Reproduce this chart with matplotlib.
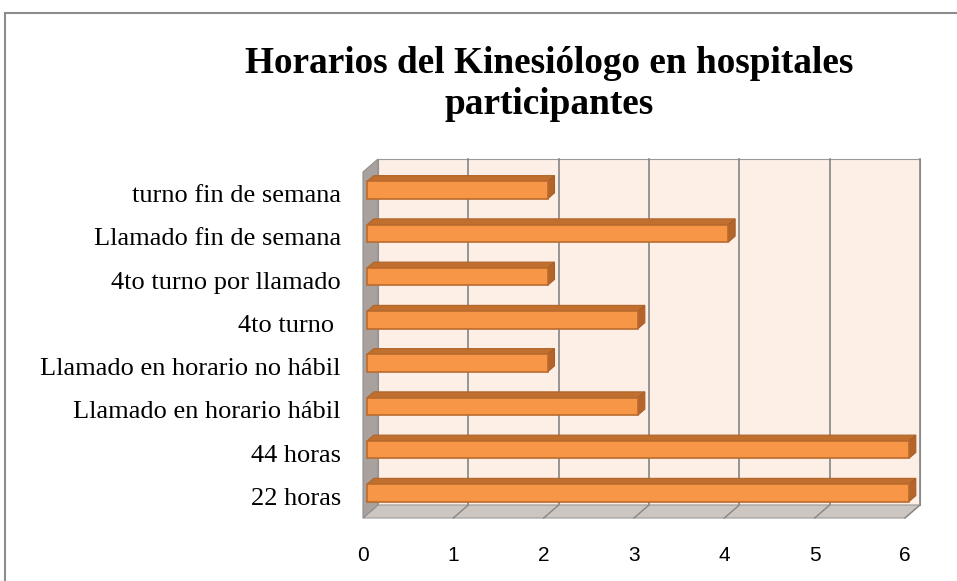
import matplotlib.pyplot as plt
import matplotlib.transforms as mtransforms
from matplotlib.patches import Polygon
from matplotlib.lines import Line2D
import numpy as np

# datos
categorias = ["22 horas", "44 horas", "Llamado en horario hábil",
              "Llamado en horario no hábil", "4to turno ", "4to turno por llamado",
              "Llamado fin de semana", "turno fin de semana"]
valores = [6, 6, 3, 2, 3, 2, 4, 2]
ticks_x = [0, 1, 2, 3, 4, 5, 6]
titulo = "Horarios del Kinesiólogo en hospitales\nparticipantes"

W, H = 957, 581
fig = plt.figure(figsize=(W / 100, H / 100), dpi=100)

# plano frontal del grafico (en pixeles)
x0, x1, ytop, ybot = 363, 905, 172, 518
ax = fig.add_axes([x0 / W, 1 - ybot / H, (x1 - x0) / W, (ybot - ytop) / H])
ax.set_xlim(0, 6)
ax.set_ylim(-0.5, len(categorias) - 0.5)
for s in ax.spines.values():
    s.set_visible(False)
ax.patch.set_visible(False)

# profundidad 3D en pixeles
D = np.array([15.0, 13.0])
ident = mtransforms.IdentityTransform()


def pt(x, y, d):
    # punto en datos + profundidad -> coordenadas de pantalla
    return ax.transData.transform((x, y)) + d * D


def cara(puntos, color, ec=None, z=1, lw=0.8):
    p = Polygon([pt(*q) for q in puntos], closed=True, facecolor=color,
                edgecolor=ec if ec else color, lw=lw, transform=ident,
                zorder=z, clip_on=False)
    ax.add_patch(p)


def linea(a, b, z, lw):
    ax.add_line(Line2D([a[0], b[0]], [a[1], b[1]], color='#868686', lw=lw, zorder=z,
                       transform=ident, clip_on=False))


ymin, ymax = -0.5, len(categorias) - 0.5
# pared del fondo
cara([(0, ymin, 1), (6, ymin, 1), (6, ymax, 1), (0, ymax, 1)], '#fdeee6', ec='#9a9a9a', z=1)
# suelo
cara([(0, ymin, 0), (6, ymin, 0), (6, ymin, 1), (0, ymin, 1)], '#cdc5c0', ec='#9a9a9a', z=2)
# pared izquierda
cara([(0, ymin, 0), (0, ymax, 0), (0, ymax, 1), (0, ymin, 1)], '#a8a19d', ec='#8f8f8f', z=2)

# lineas de cuadricula
for t in ticks_x[1:]:
    linea(pt(t, ymin, 1), pt(t, ymax, 1), 1.5, 1.2)
    linea(pt(t, ymin, 0), pt(t, ymin, 1), 2.5, 1.0)

# barras 3D
h = 0.4
d0, d1 = 0.27, 0.72
for i, v in enumerate(valores):
    yt, yb = i + h / 2, i - h / 2
    # cara superior
    cara([(0, yt, d0), (v, yt, d0), (v, yt, d1), (0, yt, d1)], '#c06f2e', ec='#b0652a', z=3)
    # cara lateral
    cara([(v, yb, d0), (v, yt, d0), (v, yt, d1), (v, yb, d1)], '#b5652a', ec='#a85e27', z=3)

off = mtransforms.ScaledTranslation(d0 * D[0] / 100, d0 * D[1] / 100, fig.dpi_scale_trans)
barras = ax.barh(range(len(categorias)), valores, height=h, color='#f79646',
                 edgecolor='#b96b2e', linewidth=1.2, zorder=4)
for b in barras:
    b.set_transform(ax.transData + off)
    b.set_clip_on(False)

# ejes y etiquetas
ax.set_yticks(range(len(categorias)))
ax.set_yticklabels(categorias, family='Liberation Serif', fontsize=19)
ax.set_xticks(ticks_x)
ax.set_xticklabels([str(t) for t in ticks_x], family='Liberation Sans', fontsize=15)
ax.tick_params(axis='y', length=0, pad=16)
ax.tick_params(axis='x', length=0, pad=20)

fig.text(549 / W, 1 - 84 / H, titulo, ha='center', va='center', family='Liberation Serif',
         fontsize=26.8, fontweight='bold', linespacing=1.22)

# borde del area del grafico
fig.add_artist(Line2D([5 / W, 5 / W], [0, 1 - 13 / H], color='#8c8c8c', lw=1.5))
fig.add_artist(Line2D([5 / W, 1], [1 - 13 / H, 1 - 13 / H], color='#8c8c8c', lw=1.5))

fig.savefig('out.png', dpi=100)
